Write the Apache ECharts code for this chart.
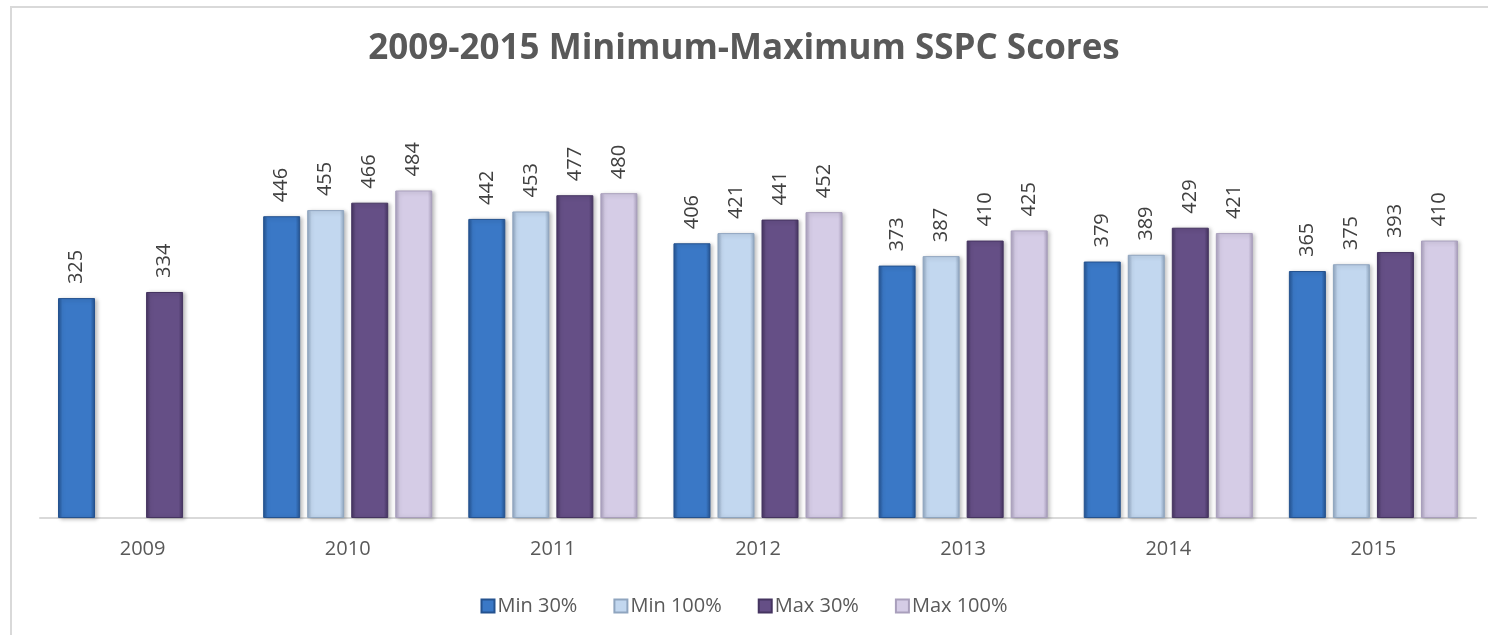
<!DOCTYPE html>
<html>
<head>
<meta charset="utf-8">
<script src="https://cdn.jsdelivr.net/npm/echarts@6/dist/echarts.min.js"></script>
<style>
html, body { margin: 0; padding: 0; background: #fff; }
#chart { width: 1488px; height: 635px; }
</style>
</head>
<body>
<div id="chart"></div>
<script>
var years = ['2009', '2010', '2011', '2012', '2013', '2014', '2015'];
var min30 = [325, 446, 442, 406, 373, 379, 365];
var min100 = [null, 455, 453, 421, 387, 389, 375];
var max30 = [334, 466, 477, 441, 410, 429, 393];
var max100 = [null, 484, 480, 452, 425, 421, 410];

var dom = document.getElementById('chart');
var myChart = echarts.init(dom);

// horizontal gradient: darker edges, lighter middle (bevel look)
function bevel(edge, mid) {
    return new echarts.graphic.LinearGradient(0, 0, 1, 0, [
        {offset: 0, color: edge},
        {offset: 0.12, color: mid},
        {offset: 0.88, color: mid},
        {offset: 1, color: edge}
    ]);
}

function makeSeries(name, data, edge, mid) {
    return {
        name: name,
        type: 'bar',
        data: data,
        barWidth: 37,
        barGap: '19%',
        itemStyle: {
            color: bevel(edge, mid),
            borderColor: edge,
            borderWidth: 1,
            shadowColor: 'rgba(0,0,0,0.25)',
            shadowBlur: 4,
            shadowOffsetX: 2,
            shadowOffsetY: 1
        },
        label: {
            show: true,
            position: 'top',
            rotate: 90,
            align: 'left',
            verticalAlign: 'middle',
            distance: 14,
            color: '#404040',
            fontFamily: 'Open Sans',
            fontSize: 20
        }
    };
}

var option = {
    animation: false,
    title: {
        text: '2009-2015 Minimum-Maximum SSPC Scores',
        left: 'center',
        top: 27,
        textStyle: {
            color: '#595959',
            fontFamily: 'Open Sans',
            fontWeight: 'bold',
            fontSize: 35
        }
    },
    graphic: [{
        type: 'rect',
        shape: {x: 11, y: 7, width: 1500, height: 650},
        style: {fill: 'none', stroke: '#d9d9d9', lineWidth: 2},
        silent: true
    }],
    legend: {
        bottom: 14,
        left: 'center',
        icon: 'rect',
        itemWidth: 13,
        itemHeight: 13,
        itemGap: 36,
        textStyle: {
            color: '#595959',
            fontFamily: 'Open Sans',
            fontSize: 20,
            padding: [0, 0, 0, -2]
        },
        data: ['Min 30%', 'Min 100%', 'Max 30%', 'Max 100%']
    },
    grid: {
        left: 40,
        right: 12,
        top: 112,
        bottom: 117
    },
    xAxis: {
        type: 'category',
        data: years,
        axisLine: {lineStyle: {color: '#d9d9d9', width: 2}},
        axisTick: {show: false},
        axisLabel: {
            color: '#595959',
            fontFamily: 'Open Sans',
            fontSize: 20,
            margin: 21
        }
    },
    yAxis: {
        type: 'value',
        min: 0,
        max: 600,
        show: false,
        splitLine: {show: false}
    },
    series: [
        makeSeries('Min 30%', min30, '#24528f', '#3a78c6'),
        makeSeries('Min 100%', min100, '#8fa5bf', '#c2d7ef'),
        makeSeries('Max 30%', max30, '#453460', '#654f86'),
        makeSeries('Max 100%', max100, '#a99fbc', '#d5cce6')
    ]
};

myChart.setOption(option);
</script>
</body>
</html>
